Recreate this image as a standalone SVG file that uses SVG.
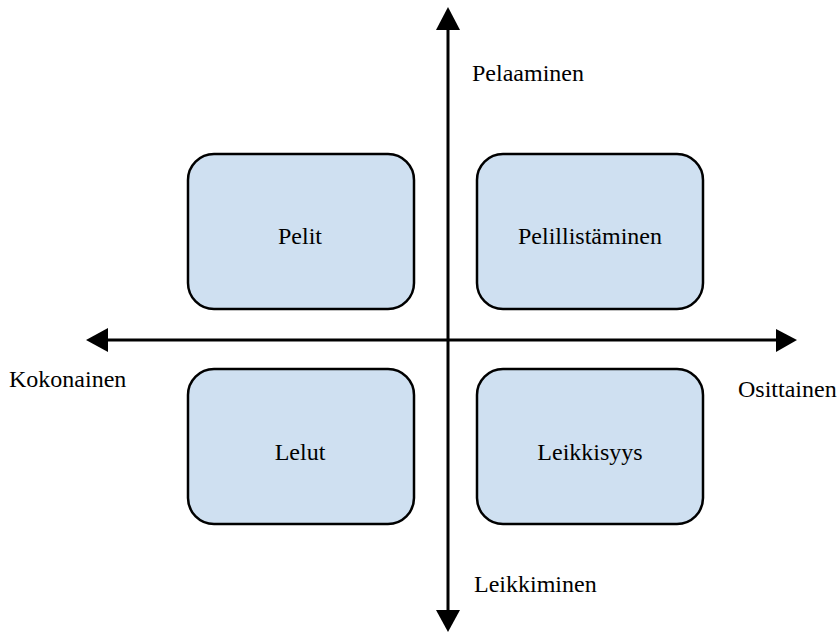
<svg xmlns="http://www.w3.org/2000/svg" width="839" height="632" viewBox="0 0 839 632">
<style>
.box{fill:#cfe0f1;stroke:#000;stroke-width:2.5}
.axis{stroke:#000;stroke-width:3;fill:none}
.head{fill:#000}
text{font-family:"Liberation Serif","Times New Roman",serif;font-size:24px;fill:#000}
.c{text-anchor:middle}
</style>
<rect width="839" height="632" fill="#fff"/>
<g id="connectors">
<line class="axis" x1="448" y1="28" x2="448" y2="612"/>
<polygon class="head" points="448,7 436,30 460,30"/>
<polygon class="head" points="448,632 436,610 460,610"/>
<line class="axis" x1="106" y1="340" x2="778" y2="340"/>
<polygon class="head" points="86,340 108,328 108,352"/>
<polygon class="head" points="797,340 776,329 776,352"/>
</g>
<g id="pelit"><rect class="box" x="188" y="154" width="226" height="155" rx="26"/><text class="c" x="300" y="244">Pelit</text></g>
<g id="pelillistaminen"><rect class="box" x="477" y="154" width="226" height="155" rx="26"/><text class="c" x="590" y="244">Pelillistäminen</text></g>
<g id="lelut"><rect class="box" x="188" y="369" width="226" height="155" rx="26"/><text class="c" x="300" y="460">Lelut</text></g>
<g id="leikkisyys"><rect class="box" x="477" y="369" width="226" height="155" rx="26"/><text class="c" x="590" y="460">Leikkisyys</text></g>
<g id="labels">
<text x="472" y="81">Pelaaminen</text>
<text x="9" y="387">Kokonainen</text>
<text x="738" y="397">Osittainen</text>
<text x="474" y="592">Leikkiminen</text>
</g>
</svg>
